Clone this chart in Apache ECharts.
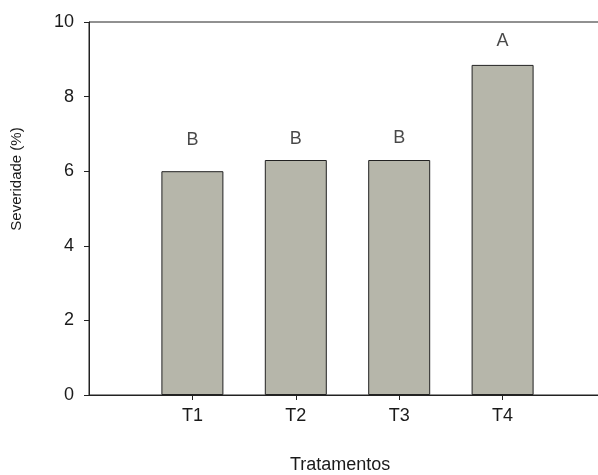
<!DOCTYPE html>
<html>
<head>
<meta charset="utf-8">
<script src="https://cdn.jsdelivr.net/npm/echarts@6/dist/echarts.min.js"></script>
<style>
  html, body { margin: 0; padding: 0; background: #fff; }
  #chart { width: 598px; height: 475px; }
</style>
</head>
<body>
<div id="chart"></div>
<script>
// Disease severity per treatment, with mean-separation letters
const categories = ['T1', 'T2', 'T3', 'T4'];
const severity = [6.0, 6.3, 6.3, 8.85];
const letters = ['B', 'B', 'B', 'A'];
const letterHeights = [6.84, 6.87, 6.9, 9.5];
const yTicks = [0, 2, 4, 6, 8, 10];

const FONT = '"Liberation Sans", Arial, sans-serif';
const INK = '#1a1a1a';

// Treatments sit at x = 1..4 on a 0..5 value scale
const barData = severity.map((v, i) => [i + 1, v]);
const letterData = letterHeights.map((h, i) => [i + 1, h]);

const chart = echarts.init(document.getElementById('chart'), null, { renderer: 'canvas' });

chart.setOption({
  backgroundColor: '#ffffff',
  animation: false,
  grid: {
    left: 89, top: 22, right: -8, bottom: 80,
    outerBoundsMode: 'none',
    show: true, borderColor: '#222', borderWidth: 1, backgroundColor: 'transparent'
  },
  xAxis: {
    type: 'value', min: 0, max: 5, interval: 1,
    splitLine: { show: false },
    axisLine: { show: true, lineStyle: { color: '#222', width: 1 } },
    axisTick: { show: true, customValues: [1, 2, 3, 4], length: 5, lineStyle: { color: '#222' } },
    axisLabel: {
      customValues: [1, 2, 3, 4],
      formatter: v => categories[Math.round(v) - 1] || '',
      fontFamily: FONT, fontSize: 18, color: INK, margin: 12
    }
  },
  yAxis: {
    type: 'value', min: 0, max: 10, interval: 2,
    splitLine: { show: false },
    axisLine: { show: true, lineStyle: { color: '#222', width: 1 } },
    axisTick: { show: true, length: 5, lineStyle: { color: '#222' } },
    axisLabel: {
      formatter: v => (yTicks.includes(v) ? String(v) : ''),
      fontFamily: FONT, fontSize: 18, color: INK, margin: 15
    }
  },
  series: [
    {
      type: 'bar',
      data: barData,
      barWidth: 62,
      itemStyle: { color: '#b6b6aa', borderColor: '#222', borderWidth: 1 }
    },
    {
      type: 'scatter',
      data: letterData,
      symbolSize: 0,
      silent: true,
      label: {
        show: true, position: 'inside',
        formatter: p => letters[p.dataIndex],
        fontFamily: FONT, fontSize: 18, color: INK
      }
    }
  ],
  graphic: [
    {
      type: 'text', left: 290, top: 456,
      style: { text: 'Tratamentos', font: '18px ' + FONT, fill: INK }
    },
    {
      type: 'text', x: 17, y: 179, rotation: Math.PI / 2,
      style: { text: 'Severidade (%)', font: '15px ' + FONT, fill: INK, align: 'center', verticalAlign: 'middle' }
    }
  ]
});
</script>
</body>
</html>
